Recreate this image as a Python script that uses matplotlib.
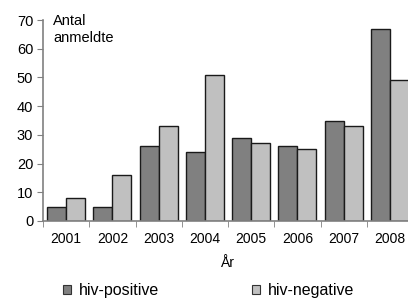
import matplotlib
matplotlib.use("Agg")
import matplotlib.pyplot as plt
import numpy as np
from matplotlib.patches import Patch

plt.rcParams["font.family"] = ["Liberation Sans", "DejaVu Sans"]

years = ["2001", "2002", "2003", "2004", "2005", "2006", "2007", "2008"]
hiv_positive = [5, 5, 26, 24, 29, 26, 35, 67]
hiv_negative = [8, 16, 33, 51, 27, 25, 33, 49]

W, H = 408, 299
fig = plt.figure(figsize=(W / 100, H / 100), dpi=100)
ax = fig.add_axes([43 / W, 1 - 221 / H, 370 / W, 201 / H])

x = np.arange(len(years))
bw = 0.41
ax.bar(x - bw / 2, hiv_positive, bw, color="#808080", edgecolor="#1a1a1a", linewidth=1.0)
ax.bar(x + bw / 2, hiv_negative, bw, color="#c0c0c0", edgecolor="#1a1a1a", linewidth=1.0)

ax.set_xlim(-0.5, len(years) - 0.5)
ax.set_ylim(0, 70)
ax.set_yticks(range(0, 71, 10))
ax.set_xticks(x)
ax.set_xticklabels(years, fontsize=10)
ax.set_xticks(np.arange(-0.5, len(years), 1), minor=True)
ax.tick_params(axis="x", which="major", length=0, pad=8)
ax.tick_params(axis="x", which="minor", length=4, color="#808080", direction="out")
ax.tick_params(axis="y", length=4, color="#808080", labelsize=10.5, pad=3)
for s in ["top", "right"]:
    ax.spines[s].set_visible(False)
for s in ["left", "bottom"]:
    ax.spines[s].set_color("#808080")
    ax.spines[s].set_linewidth(1.2)

fig.text(53 / W, 1 - 14 / H, "Antal\nanmeldte", fontsize=10.5, va="top", ha="left",
         linespacing=1.3)
fig.text(228 / W, 1 - 263 / H, "År", fontsize=10, ha="center", va="center")

handles = [Patch(facecolor="#808080", edgecolor="#333333", linewidth=0.8),
           Patch(facecolor="#c0c0c0", edgecolor="#333333", linewidth=0.8)]
fig.legend(handles, ["hiv-positive", "hiv-negative"], loc="center",
           bbox_to_anchor=(209 / W, 1 - 291 / H), ncol=2, frameon=False,
           fontsize=11.5, handlelength=0.5, handleheight=0.5, handletextpad=0.5,
           columnspacing=5.8, borderpad=0)

fig.savefig("out.png", dpi=100)
